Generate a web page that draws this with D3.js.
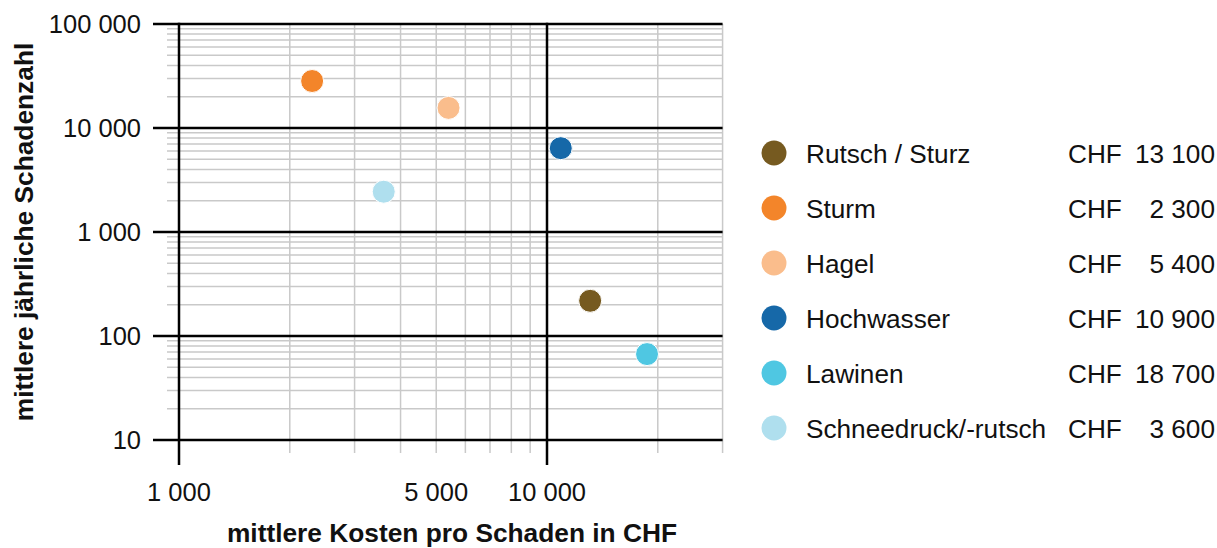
<!DOCTYPE html>
<html><head><meta charset="utf-8">
<script src="https://cdn.jsdelivr.net/npm/d3@7"></script>
<style>
html,body{margin:0;padding:0;background:#fff;}
svg text{font-family:"Liberation Sans",Arial,Helvetica,sans-serif;fill:#111;}
</style></head>
<body>
<svg id="chart" width="1217" height="548"></svg>
<script>
const categories = ["Rutsch / Sturz","Sturm","Hagel","Hochwasser","Lawinen","Schneedruck/-rutsch"];
const costs = [13100, 2300, 5400, 10900, 18700, 3600];
const counts = [218, 28300, 15600, 6400, 67, 2440];
const colors = ["#765a20","#f3852a","#fabd8c","#1668a8","#4fc7e2","#afdfee"];
const costLabels = ["13 100","2 300","5 400","10 900","18 700","3 600"];
const yTicks = [10, 100, 1000, 10000, 100000];
const yTickLabels = ["10","100","1 000","10 000","100 000"];
const xTicks = [1000, 5000, 10000];
const xTickLabels = ["1 000","5 000","10 000"];
const xMajor = [1000, 10000];
const xMinor = [2000,3000,4000,5000,6000,7000,8000,9000,20000,30000];
const yMinor = [];
[10,100,1000,10000].forEach(b=>{for(let k=2;k<=9;k++) yMinor.push(b*k);});

const svg = d3.select("#chart");
const x = d3.scaleLog().domain([1000, 10000]).range([179, 547]);
const y = d3.scaleLog().domain([10, 100000]).range([440, 24]);
const xRight = x(30000);
const plotLeft = 167, majorLeft = 153, minorBottom = 453, majorBottom = 465;

const g = svg.append("g");
g.selectAll(".hmin").data(yMinor).join("line")
  .attr("x1", plotLeft).attr("x2", xRight)
  .attr("y1", d=>y(d)).attr("y2", d=>y(d))
  .attr("stroke", "#c9c9c9").attr("stroke-width", 1.5);
g.selectAll(".vmin").data(xMinor).join("line")
  .attr("x1", d=>x(d)).attr("x2", d=>x(d))
  .attr("y1", y(100000)).attr("y2", minorBottom)
  .attr("stroke", "#c9c9c9").attr("stroke-width", 1.5);
g.selectAll(".hmaj").data(yTicks).join("line")
  .attr("x1", majorLeft).attr("x2", xRight)
  .attr("y1", d=>y(d)).attr("y2", d=>y(d))
  .attr("stroke", "#000").attr("stroke-width", 2.5);
g.selectAll(".vmaj").data(xMajor).join("line")
  .attr("x1", d=>x(d)).attr("x2", d=>x(d))
  .attr("y1", y(100000) - 1.2).attr("y2", majorBottom)
  .attr("stroke", "#000").attr("stroke-width", 2.5);

svg.selectAll(".ylab").data(yTicks).join("text")
  .attr("x", 141).attr("y", d=>y(d) + 9)
  .attr("text-anchor", "end").attr("font-size", 25.5)
  .text((d,i)=>yTickLabels[i]);
svg.selectAll(".xlab").data(xTicks).join("text")
  .attr("x", d=>x(d)).attr("y", 501)
  .attr("text-anchor", "middle").attr("font-size", 25.5)
  .text((d,i)=>xTickLabels[i]);

svg.append("text").attr("x", 452).attr("y", 542)
  .attr("text-anchor", "middle").attr("font-size", 26.3).attr("font-weight", "bold")
  .text("mittlere Kosten pro Schaden in CHF");
svg.append("text").attr("transform", "translate(33,232) rotate(-90)")
  .attr("text-anchor", "middle").attr("font-size", 26.3).attr("font-weight", "bold")
  .text("mittlere jährliche Schadenzahl");

svg.selectAll(".pt").data(categories).join("circle")
  .attr("cx", (d,i)=>x(costs[i])).attr("cy", (d,i)=>y(counts[i]))
  .attr("r", 11.5).attr("fill", (d,i)=>colors[i])
  .attr("stroke", "#fff").attr("stroke-width", 1);

const lg = svg.append("g");
const rows = lg.selectAll(".row").data(categories).join("g")
  .attr("transform", (d,i)=>`translate(0,${153 + i*55})`);
rows.append("circle").attr("cx", 774).attr("cy", 0).attr("r", 12.5)
  .attr("fill", (d,i)=>colors[i]);
rows.append("text").attr("x", 806).attr("y", 10).attr("font-size", 26.2).text(d=>d);
rows.append("text").attr("x", 1068).attr("y", 10).attr("font-size", 26.2).text("CHF");
rows.append("text").attr("x", 1215).attr("y", 10).attr("font-size", 26.2)
  .attr("text-anchor", "end").text((d,i)=>costLabels[i]);
</script>
</body></html>
